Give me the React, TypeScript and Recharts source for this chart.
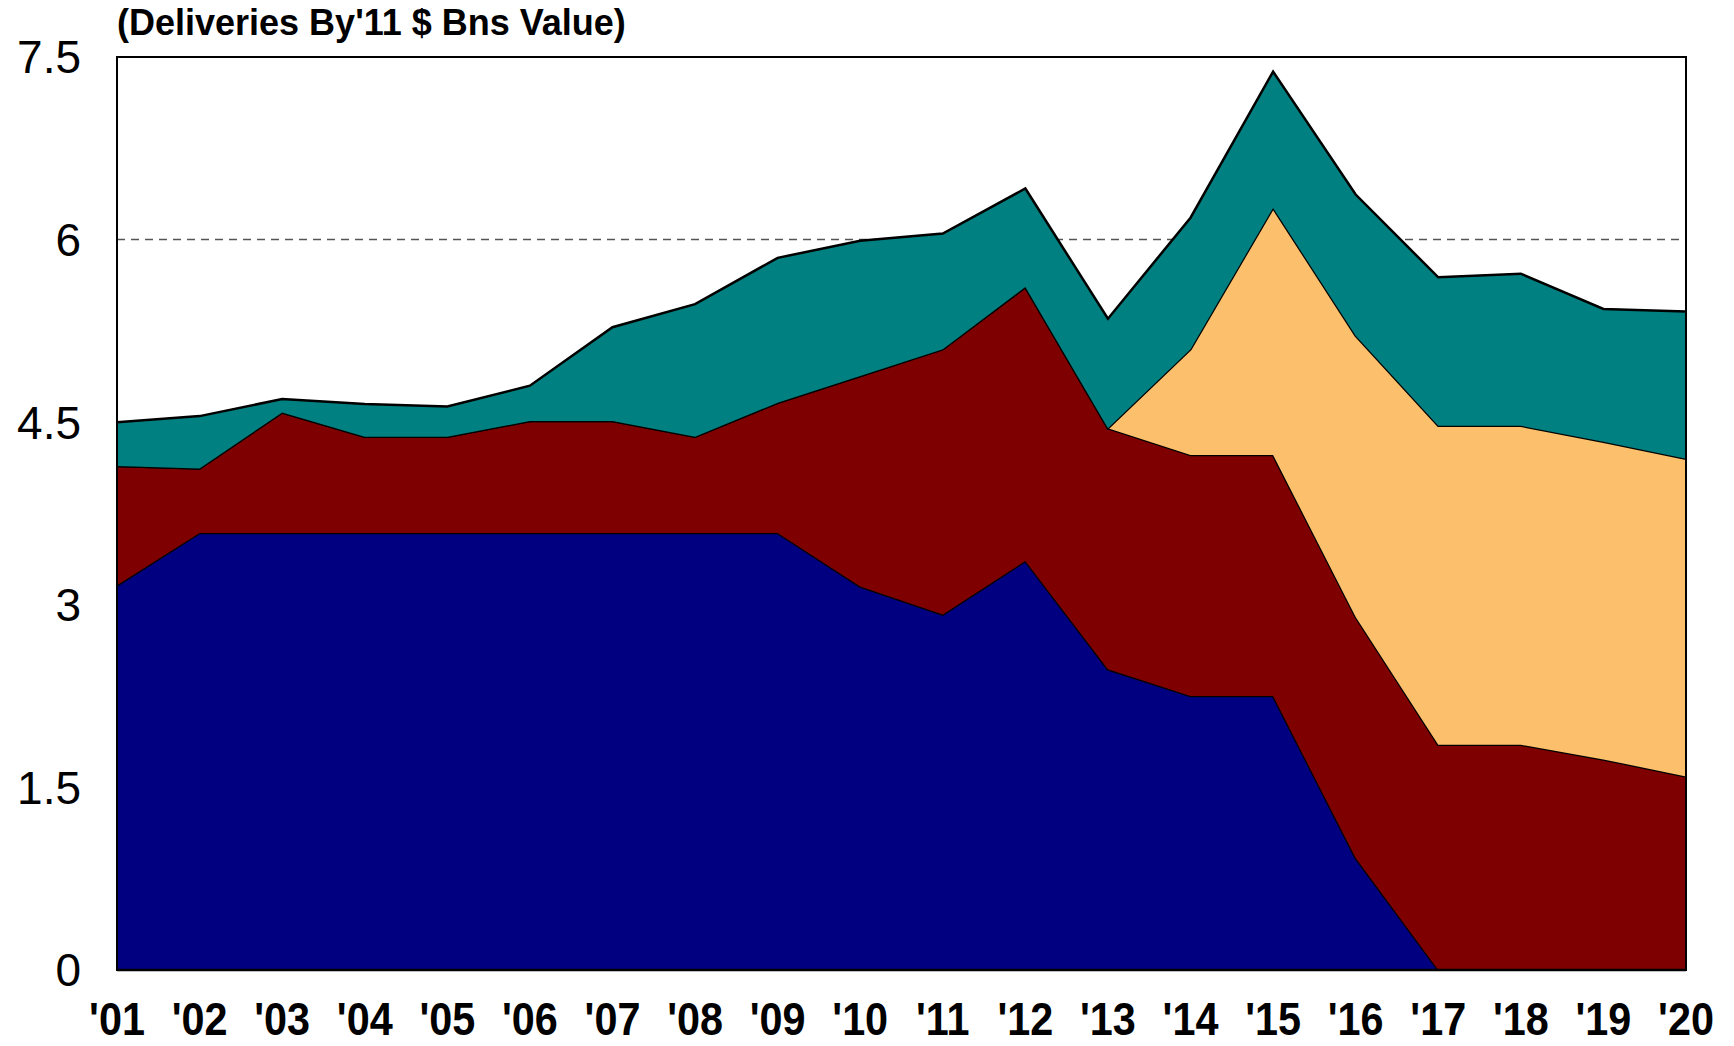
import React from "react";
import {
  AreaChart,
  Area,
  XAxis,
  YAxis,
  CartesianGrid,
  ReferenceArea,
} from "recharts";

const years = ["'01", "'02", "'03", "'04", "'05", "'06", "'07", "'08", "'09", "'10", "'11", "'12", "'13", "'14", "'15", "'16", "'17", "'18", "'19", "'20"];

// stacked increments ($ Bns)
const navyVals = [3.16, 3.59, 3.59, 3.59, 3.59, 3.59, 3.59, 3.59, 3.59, 3.15, 2.92, 3.36, 2.47, 2.25, 2.25, 0.92, 0, 0, 0, 0];
const maroonVals = [0.98, 0.53, 0.99, 0.79, 0.79, 0.92, 0.92, 0.79, 1.07, 1.73, 2.18, 2.25, 1.98, 1.98, 1.98, 1.98, 1.85, 1.85, 1.73, 1.59];
const goldVals = [0, 0, 0, 0, 0, 0, 0, 0, 0, 0, 0, 0, 0, 0.87, 2.03, 2.31, 2.62, 2.62, 2.61, 2.61];
const tealVals = [0.36, 0.43, 0.11, 0.27, 0.25, 0.29, 0.77, 1.09, 1.19, 1.11, 0.95, 0.81, 0.9, 1.08, 1.12, 1.16, 1.22, 1.25, 1.09, 1.21];

const yTicks = [0, 1.5, 3, 4.5, 6, 7.5];

const chartData = years.map((year, i) => ({
  year,
  navy: navyVals[i],
  maroon: maroonVals[i],
  gold: goldVals[i],
  teal: tealVals[i],
}));

const series = [
  { key: "navy", color: "#000080" },
  { key: "maroon", color: "#7F0000" },
  { key: "gold", color: "#FCC06C" },
  { key: "teal", color: "#008080" },
];

// narrow bold year labels, like the original
const YearTick = (props: any) => {
  const { x, y, payload } = props;
  return (
    <g transform={`translate(${x},${y})`}>
      <text
        x={0}
        y={0}
        dy="0.71em"
        textAnchor="middle"
        fill="#000"
        fontSize={47}
        fontWeight="bold"
        transform="scale(0.88,1)"
      >
        {payload.value}
      </text>
    </g>
  );
};

export default function App() {
  return (
    <div style={{ position: "absolute", left: 0, top: 0, width: 1734, height: 1046, background: "#fff", fontFamily: "'Liberation Sans', Arial, sans-serif" }}>
      <div style={{ position: "absolute", left: 117, top: 3, fontSize: 36, fontWeight: "bold", lineHeight: "40px", color: "#000", whiteSpace: "nowrap" }}>
        (Deliveries By'11 $ Bns Value)
      </div>
      <AreaChart
        width={1734}
        height={1046}
        data={chartData}
        margin={{ top: 57, right: 48, left: 17, bottom: 0 }}
      >
        <CartesianGrid horizontalValues={[6]} vertical={false} stroke="#555" strokeDasharray="8 6" strokeWidth={1.5} />
        <XAxis
          dataKey="year"
          height={76}
          tickSize={0}
          tickMargin={32}
          axisLine={{ stroke: "#000", strokeWidth: 2.5 }}
          tick={<YearTick />}
          interval={0}
        />
        <YAxis
          width={100}
          domain={[0, 7.5]}
          ticks={yTicks}
          tickSize={0}
          tickMargin={36}
          axisLine={{ stroke: "#000", strokeWidth: 2 }}
          tick={{ fill: "#000", fontSize: 46 }}
          allowDataOverflow
        />
        {series.map((s) => (
          <Area
            key={s.key}
            type="linear"
            dataKey={s.key}
            stackId="1"
            stroke="#000"
            strokeWidth={2.5}
            fill={s.color}
            fillOpacity={1}
            dot={false}
            activeDot={false}
            isAnimationActive={false}
          />
        ))}
        <ReferenceArea x1="'01" x2="'20" y1={0} y2={7.5} fill="none" stroke="#000" strokeWidth={2} ifOverflow="visible" />
      </AreaChart>
    </div>
  );
}
